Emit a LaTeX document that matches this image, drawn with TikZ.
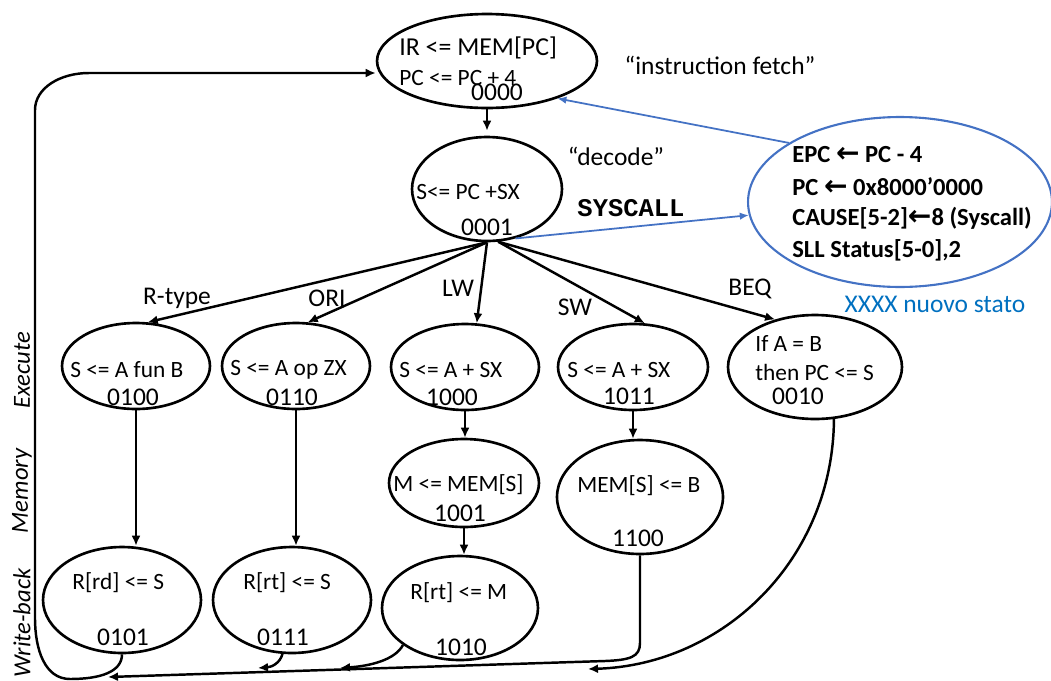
\documentclass[tikz,border=0pt]{standalone}
\usepackage{fontspec}
\setmainfont{Carlito}
\setmonofont{Liberation Mono}
\newfontfamily\arrowfont{DejaVu Sans}
\usetikzlibrary{shapes.geometric,arrows.meta}
\definecolor{xblue}{HTML}{4472C4}
\definecolor{nblue}{HTML}{0070C0}
\newcommand{\larr}{{\arrowfont\bfseries\fontsize{16}{16}\selectfont ←}}
\tikzset{
  state/.style={draw,ellipse,line width=1.5pt,inner sep=0pt},
  excstate/.style={draw=xblue,ellipse,line width=1.2pt,inner sep=0pt},
  arr/.style={-{Latex[length=2mm,width=1.8mm]},line width=1.4pt},
  xarr/.style={-{Latex[length=1.8mm,width=1.5mm]},draw=xblue,line width=1pt},
  txt/.style={font=\fontsize{13.3}{15}\selectfont,inner sep=0pt,anchor=west},
  code/.style={font=\fontsize{14.5}{16}\selectfont,inner sep=0pt},
  lbl/.style={font=\fontsize{14.5}{16}\selectfont,inner sep=0pt},
  exctxt/.style={font=\fontsize{14}{16}\selectfont\bfseries,inner sep=0pt,anchor=west},
  side/.style={font=\fontsize{14}{16}\selectfont\itshape,inner sep=0pt,rotate=90}
}
\begin{document}
\begin{tikzpicture}[x=0.02cm,y=-0.02cm]
\useasboundingbox (0,0) rectangle (1051,680);
% states
\node[state,minimum width=4.4cm,minimum height=1.88cm](s0000)at(487,61){};
\node[state,minimum width=3cm,minimum height=2.08cm](s0001)at(487,189){};
\node[excstate,minimum width=6.08cm,minimum height=3.4cm](sexc)at(900,202){};
\node[state,minimum width=2.96cm,minimum height=1.72cm](s0100)at(136,366){};
\node[state,minimum width=2.96cm,minimum height=1.72cm](s0110)at(296,366){};
\node[state,minimum width=2.96cm,minimum height=1.72cm](s1000)at(465,367){};
\node[state,minimum width=3cm,minimum height=1.72cm](s1011)at(633,367){};
\node[state,minimum width=3.48cm,minimum height=2.08cm](s0010)at(815,367){};
\node[state,minimum width=3cm,minimum height=1.76cm](s1001)at(464,483){};
\node[state,minimum width=3.32cm,minimum height=2.28cm](s1100)at(640,497){};
\node[state,minimum width=3.16cm,minimum height=2.12cm](s0101)at(122,600){};
\node[state,minimum width=3.16cm,minimum height=2.12cm](s0111)at(292,600){};
\node[state,minimum width=3.12cm,minimum height=2.08cm](s1010)at(460,608){};
% texts in the states
\node[txt,font=\fontsize{14.7}{16}\selectfont](t0000a)at(399,48){IR <= MEM[PC]};
\node[txt](t0000b)at(399,78){PC <= PC + 4};
\node[code](n0000)at(497,92){0000};
\node[txt](t0001)at(416,192){S<= PC +SX};
\node[code](n0001)at(487,227){0001};
\node[txt](t0100)at(70,370){S <= A fun B};
\node[code](n0100)at(133,397){0100};
\node[txt](t0110)at(230,370){S <= A op ZX};
\node[code](n0110)at(292,397){0110};
\node[txt](t1000)at(399,370){S <= A + SX};
\node[code](n1000)at(452,397){1000};
\node[txt](t1011)at(567,370){S <= A + SX};
\node[code](n1011)at(629,396){1011};
\node[txt](t0010a)at(755,343){If A = B};
\node[txt](t0010b)at(755,372){then PC <= S};
\node[code](n0010)at(798,396){0010};
\node[txt](t1001)at(393,485){M <= MEM[S]};
\node[code](n1001)at(460,513){1001};
\node[txt](t1100)at(577,486){MEM[S] <= B};
\node[code](n1100)at(638,538){1100};
\node[txt](t0101)at(72,583){R[rd] <= S};
\node[code](n0101)at(123,637){0101};
\node[txt](t0111)at(243,583){R[rt] <= S};
\node[code](n0111)at(283,637){0111};
\node[txt](t1010)at(410,593){R[rt] <= M};
\node[code](n1010)at(461,647){1010};
% syscall state
\node[exctxt](te1)at(792,155){EPC \larr{} PC - 4};
\node[exctxt](te2)at(792,187){PC \larr{} 0x8000’0000};
\node[exctxt](te3)at(792,218){CAUSE[5-2]\larr8 (Syscall)};
\node[exctxt](te4)at(792,250){SLL Status[5-0],2};
\node[lbl,text=nblue](lnew)at(935,304){XXXX nuovo stato};
% labels
\node[lbl](lfetch)at(720,65){“instruction fetch”};
\node[lbl](ldecode)at(616,156){“decode”};
\node[lbl,font=\fontsize{14.5}{16}\selectfont\ttfamily\bfseries](lsys)at(631,208){SYSCALL};
\node[lbl](lrt)at(177,298){R-type};
\node[lbl](lori)at(327,298){ORI};
\node[lbl](llw)at(458,288){LW};
\node[lbl](lsw)at(575,307){SW};
\node[lbl](lbeq)at(750,289){BEQ};
\node[side](lexe)at(22,370){Execute};
\node[side](lmem)at(22,491){Memory};
\node[side](lwb)at(22,623){Write-back};
% transitions
\draw[arr,shorten >=1mm](s0000.south)--(s0001.north);
\draw[arr](s0001.south)--(s0100.75);
\draw[arr](s0001.south)--(s0110.75);
\draw[arr](s0001.south)--(s1000.75);
\draw[arr](s0001.-78)--(s1011.75);
\draw[arr](s0001.-78)--(s0010.130);
\draw[arr](s0100.south)--(s0100.south|-s0101.north);
\draw[arr](s0110.south)--(s0110.south|-s0111.north);
\draw[arr](s1000.south)--(s1000.south|-s1001.north);
\draw[arr](s1001.south)--(s1001.south|-s1010.north);
\draw[arr](s1011.south)--(s1011.south|-s1100.north);
\draw[xarr](sexc.152)--(s0000.-28);
\draw[xarr](s0001.-60)--(sexc.185);
% back to fetch
\coordinate(ret)at(89,73);
\draw[arr](s0101.south)..controls(122,672)and(100,679)..(70,679)..controls(45,679)and(35,650)..(35,618)--(35,110)..controls(35,88)and(60,73)..(ret)--(ret-|s0000.west);
\draw[arr](s0111.-100)..controls(280,663)and(272,667)..(258,668);
\draw[arr](s1010.-147)..controls(395,660)and(370,666)..(340,668);
\draw[arr](s1100.south)--(640,643)..controls(640,657)and(630,660)..(605,661)--(108,677);
\draw[arr](s0010.-70)..controls(833,560)and(723,665)..(588,669);
\end{tikzpicture}
\end{document}
